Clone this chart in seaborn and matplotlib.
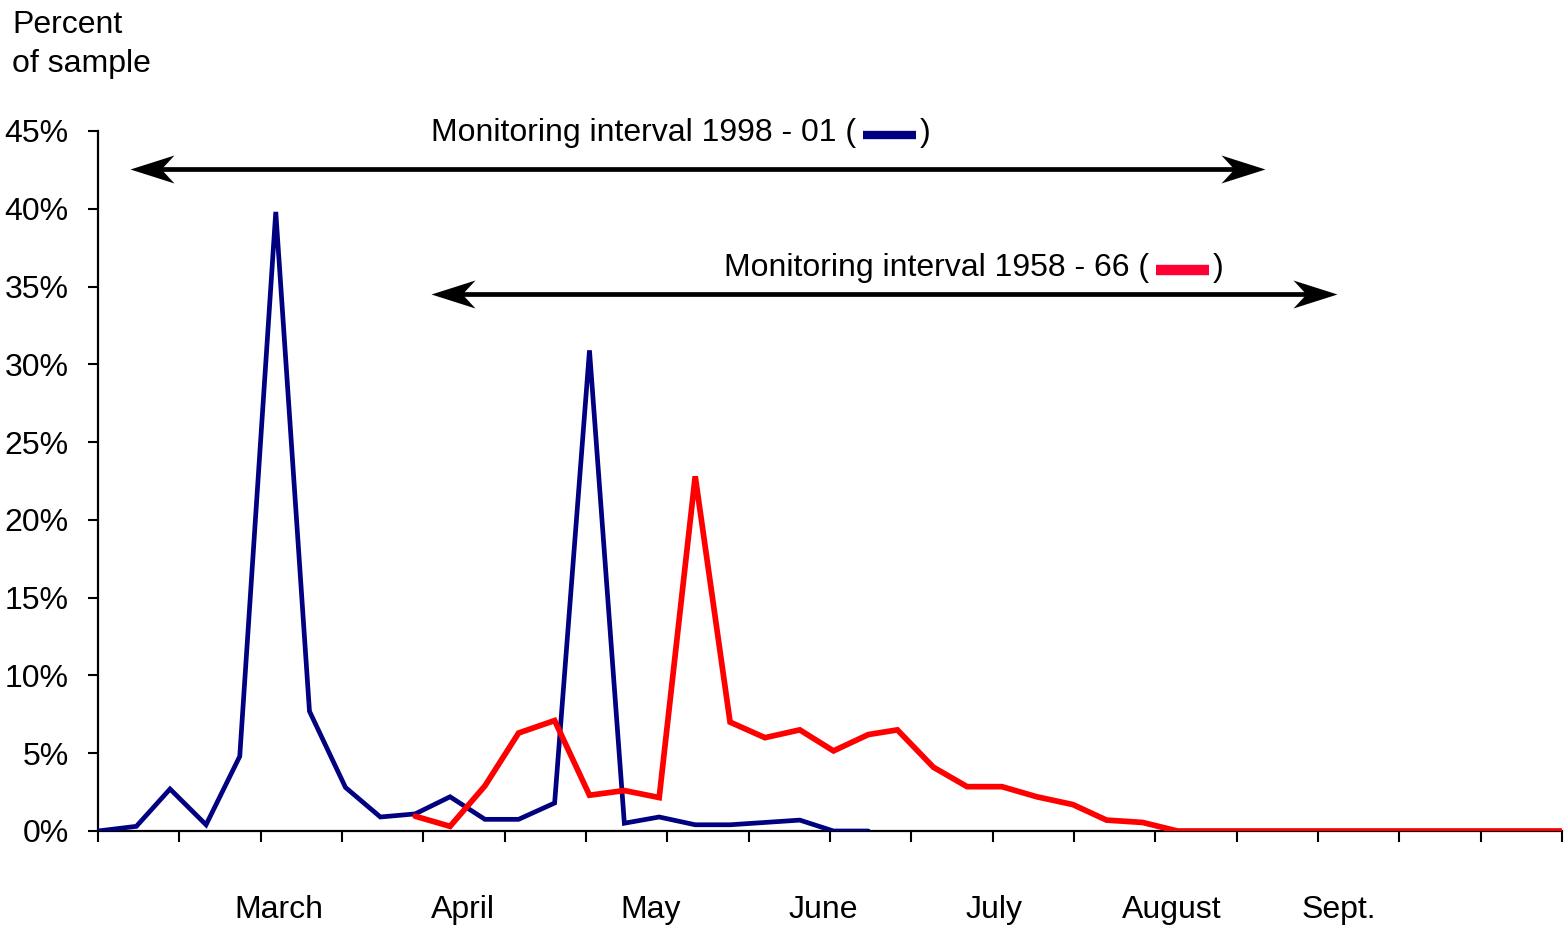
import numpy as np
import pandas as pd
import matplotlib
matplotlib.use("Agg")
import matplotlib.pyplot as plt
import seaborn as sns
from matplotlib.path import Path
from matplotlib.offsetbox import TextArea, DrawingArea, HPacker, AnnotationBbox
from matplotlib.lines import Line2D
import matplotlib.transforms as mtransforms

# ---------------- data (x in days from the start of the axis) ----------------
blue_day = [0, 3.3, 6.2, 9.3, 12.2, 15.3, 18.2, 21.3, 24.3, 27.3, 30.3, 33.3,
            36.2, 39.3, 42.3, 45.3, 48.3, 51.4, 54.4, 57.4, 60.4, 63.3, 66.3]
blue_pct = [0.0, 0.3, 2.7, 0.4, 4.8, 39.8, 7.7, 2.8, 0.9, 1.1, 2.2, 0.75,
            0.75, 1.8, 30.9, 0.5, 0.9, 0.4, 0.4, 0.55, 0.7, 0.0, 0.0]
red_day = [27.3, 30.3, 33.3, 36.2, 39.3, 42.3, 45.3, 48.3, 51.4, 54.4, 57.4,
           60.4, 63.3, 66.3, 68.8, 71.9, 74.8, 77.8, 80.8, 83.9, 86.8, 89.9,
           92.9, 95.9, 98.9, 101.9, 104.9, 107.9, 110.9, 113.9, 116.9, 119.9,
           122.9, 125.9]
red_pct = [0.95, 0.3, 2.9, 6.3, 7.1, 2.3, 2.6, 2.15, 22.8, 7.0, 6.0, 6.5,
           5.15, 6.2, 6.5, 4.1, 2.85, 2.85, 2.2, 1.7, 0.7, 0.55,
           0.0, 0.0, 0.0, 0.0, 0.0, 0.0, 0.0, 0.0, 0.0, 0.0, 0.0, 0.0]
month_labels = ["March", "April", "May", "June", "July", "August", "Sept."]
month_pos = [15.6, 31.4, 47.6, 62.4, 77.1, 92.4, 106.8]
week_ticks = list(range(0, 127, 7))
y_ticks = [0, 5, 10, 15, 20, 25, 30, 35, 40, 45]
interval_labels = ["Monitoring interval 1998 - 01 (", "Monitoring interval 1958 - 66 ("]
interval_x = [(2.75, 100.4), (28.66, 106.6)]
interval_y = [42.56, 34.52]
label_anchor = [(28.66, 44.9), (53.9, 36.2)]

BLUE = "#000080"
RED = "#FF0000"
SWATCH_RED = "#FF0033"

sns.set_style("ticks")
plt.rcParams["font.family"] = ["Liberation Sans", "DejaVu Sans"]
for k in ["text.color", "axes.labelcolor", "xtick.color", "ytick.color", "axes.edgecolor"]:
    plt.rcParams[k] = "black"
FS = 23

fig = plt.figure(figsize=(15.64, 9.31), dpi=100)
ax = fig.add_axes([98 / 1564, 100 / 931, 1464 / 1564, 700 / 931])

df_b = pd.DataFrame({"day": blue_day, "pct": blue_pct})
df_r = pd.DataFrame({"day": red_day, "pct": red_pct})
sns.lineplot(data=df_b, x="day", y="pct", color=BLUE, linewidth=3.4, ax=ax,
             zorder=3, solid_joinstyle="miter")
sns.lineplot(data=df_r, x="day", y="pct", color=RED, linewidth=4.1, ax=ax,
             zorder=4, solid_joinstyle="miter")

ax.set_xlim(0, 126)
ax.set_ylim(0, 45)
ax.set_xlabel("")
ax.set_ylabel("")
ax.set_xticks(week_ticks)
ax.set_xticklabels([])
ax.set_yticks(y_ticks)
ax.set_yticklabels([f"{v}%" for v in y_ticks], fontsize=FS)
ax.tick_params(axis="y", length=7, width=1.5, pad=14, color="black", labelcolor="black")
ax.tick_params(axis="x", length=8, width=1.5, color="black")
for s in ["top", "right"]:
    ax.spines[s].set_visible(False)
for s in ["left", "bottom"]:
    ax.spines[s].set_linewidth(1.6)
    ax.spines[s].set_color("black")
    ax.spines[s].set_zorder(2)

# month labels
trans = mtransforms.blended_transform_factory(ax.transData, ax.transAxes)
for lab, xp in zip(month_labels, month_pos):
    ax.text(xp, -0.1135, lab, transform=trans, ha="center", va="center",
            fontsize=FS, color="black")

# y label
fig.text(12 / 1564, 1 - 33 / 931, "Percent", fontsize=FS, va="baseline", ha="left", color="black")
fig.text(12 / 1564, 1 - 72 / 931, "of sample", fontsize=FS, va="baseline", ha="left", color="black")

# arrows with notched heads
head_r = Path([(0, 0), (-44, 14), (-31, 0), (-44, -14), (0, 0)],
              [Path.MOVETO, Path.LINETO, Path.LINETO, Path.LINETO, Path.CLOSEPOLY])
head_l = Path([(0, 0), (44, 14), (31, 0), (44, -14), (0, 0)],
              [Path.MOVETO, Path.LINETO, Path.LINETO, Path.LINETO, Path.CLOSEPOLY])
msize = 88 / 100 * 72
for (x0, x1), yv in zip(interval_x, interval_y):
    ax.plot([x0 + 1.5, x1 - 1.5], [yv, yv], color="black", lw=3.4,
            solid_capstyle="butt", clip_on=False, zorder=5)
    ax.plot([x0], [yv], marker=head_l, markersize=msize, color="black",
            markeredgewidth=0, clip_on=False, zorder=6)
    ax.plot([x1], [yv], marker=head_r, markersize=msize, color="black",
            markeredgewidth=0, clip_on=False, zorder=6)

# interval labels with swatches
for lab, anc, col, slw in zip(interval_labels, label_anchor, [BLUE, SWATCH_RED], [6.0, 7.5]):
    t1 = TextArea(lab, textprops=dict(fontsize=FS, color="black",
                                      family=["Liberation Sans"]))
    da = DrawingArea(46, 20, 0, 0)
    da.add_artist(Line2D([5, 43], [8.5, 8.5], color=col, lw=slw, solid_capstyle="butt"))
    t2 = TextArea(")", textprops=dict(fontsize=FS, color="black",
                                      family=["Liberation Sans"]))
    box = HPacker(children=[t1, da, t2], align="center", pad=0, sep=0)
    ab = AnnotationBbox(box, anc, xycoords="data", box_alignment=(0, 0.5),
                        frameon=False, pad=0, annotation_clip=False)
    ax.add_artist(ab)

fig.savefig("out.png", dpi=100)
